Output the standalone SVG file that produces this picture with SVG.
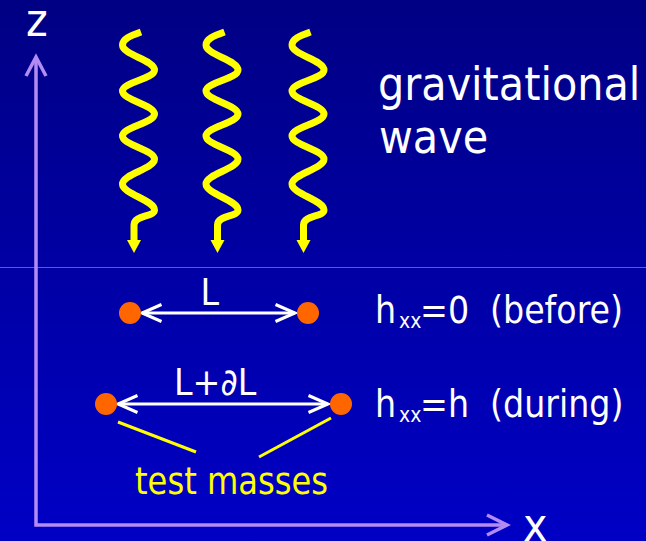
<svg xmlns="http://www.w3.org/2000/svg" xmlns:xlink="http://www.w3.org/1999/xlink" width="646" height="541" viewBox="0 0 646 541">
  <style>
    text { font-family: 'DejaVu Sans Condensed', 'DejaVu Sans', sans-serif; font-stretch: condensed; }
    .white { fill: #ffffff; }
    .yellow { fill: #ffff00; }
    .big { font-size: 46px; }
    .mid { font-size: 37px; }
    .sub { font-size: 21px; }
    .axis { stroke: #b28cf2; stroke-width: 3.5; fill: none; }
    .axhead { stroke: #b28cf2; stroke-width: 3.5; fill: none; stroke-linejoin: miter; }
    .darrow { stroke: #ffffff; stroke-width: 2.8; fill: none; }
    .pointer { stroke: #ffff00; stroke-width: 3; fill: none; }
    .wave { stroke: #ffff00; stroke-width: 7; fill: none; stroke-linecap: butt; }
    .mass { fill: #ff6600; }
  </style>
  <defs>
    <linearGradient id="bg" x1="0" y1="0" x2="0" y2="1">
      <stop offset="0" stop-color="#000084"/>
      <stop offset="1" stop-color="#0000c6"/>
    </linearGradient>
    <marker id="openArrow" markerUnits="userSpaceOnUse" viewBox="-24 -12 28 24" refX="0" refY="0" markerWidth="28" markerHeight="24" orient="auto-start-reverse">
      <path d="M -19.5 -8.5 L 0 0 L -19.5 8.5" stroke="#ffffff" stroke-width="3" fill="none"/>
    </marker>
    <g id="squiggle">
      <path class="wave" d="M 141 32 C 130 36, 122.5 39, 122.5 45 C 122.5 55, 154.5 60, 154.5 70 C 154.5 79, 122.5 82, 122.5 91 C 122.5 100, 154.5 105, 154.5 114 C 154.5 123, 122.5 127, 122.5 136 C 122.5 145, 154.5 150, 154.5 159 C 154.5 169, 122.5 174, 122.5 184 C 122.5 194, 154.5 200, 154.5 210 C 154.5 217, 134 215, 134 225 L 134 241"/>
      <polygon points="127,240 141,240 134,253" fill="#ffff00"/>
    </g>
  </defs>

  <rect x="0" y="0" width="646" height="541" fill="url(#bg)"/>
  <line x1="0" y1="267.5" x2="646" y2="267.5" stroke="#5a5ad6" stroke-width="1"/>

  <g id="connectors">
    <g id="axes">
      <path class="axis" d="M 36 58 L 36 525 L 506 525"/>
      <path class="axhead" d="M 26 76 L 36 57 L 46 76"/>
      <path class="axhead" d="M 487 515 L 507 525 L 487 535"/>
    </g>
    <line id="arrow-before" class="darrow" x1="142" y1="313" x2="295" y2="313" marker-start="url(#openArrow)" marker-end="url(#openArrow)"/>
    <line id="arrow-during" class="darrow" x1="118" y1="404" x2="328" y2="404" marker-start="url(#openArrow)" marker-end="url(#openArrow)"/>
    <line class="pointer" x1="118" y1="422" x2="196" y2="452"/>
    <line class="pointer" x1="331" y1="418" x2="259" y2="457"/>
  </g>

  <g id="wave1"><use xlink:href="#squiggle" href="#squiggle"/></g>
  <g id="wave2"><use xlink:href="#squiggle" href="#squiggle" transform="translate(83.5,0)"/></g>
  <g id="wave3"><use xlink:href="#squiggle" href="#squiggle" transform="translate(169.5,0)"/></g>

  <g id="mass-before-left"><circle class="mass" cx="130" cy="313" r="11"/></g>
  <g id="mass-before-right"><circle class="mass" cx="308" cy="313" r="11"/></g>
  <g id="mass-during-left"><circle class="mass" cx="106" cy="404" r="11"/></g>
  <g id="mass-during-right"><circle class="mass" cx="341" cy="404" r="11"/></g>

  <g id="label-z"><text class="white big" x="26" y="36">z</text></g>
  <g id="label-x"><text class="white big" x="523" y="541">x</text></g>
  <g id="label-gw">
    <text class="white big" x="378" y="100">gravitational</text>
    <text class="white big" x="379" y="153">wave</text>
  </g>
  <g id="label-L"><text class="white mid" x="200.5" y="305">L</text></g>
  <g id="label-LdL"><text class="white mid" x="174" y="395">L+∂L</text></g>
  <g id="label-before">
    <text class="white mid" x="375" y="323">h<tspan class="sub" x="399" y="328">xx</tspan><tspan x="420" y="323">=0</tspan><tspan x="490" y="323">(before)</tspan></text>
  </g>
  <g id="label-during">
    <text class="white mid" x="375" y="417">h<tspan class="sub" x="399" y="422">xx</tspan><tspan x="420" y="417">=h</tspan><tspan x="490" y="417">(during)</tspan></text>
  </g>
  <g id="label-test-masses"><text class="yellow mid" x="135" y="494" textLength="193" lengthAdjust="spacingAndGlyphs">test masses</text></g>
</svg>
